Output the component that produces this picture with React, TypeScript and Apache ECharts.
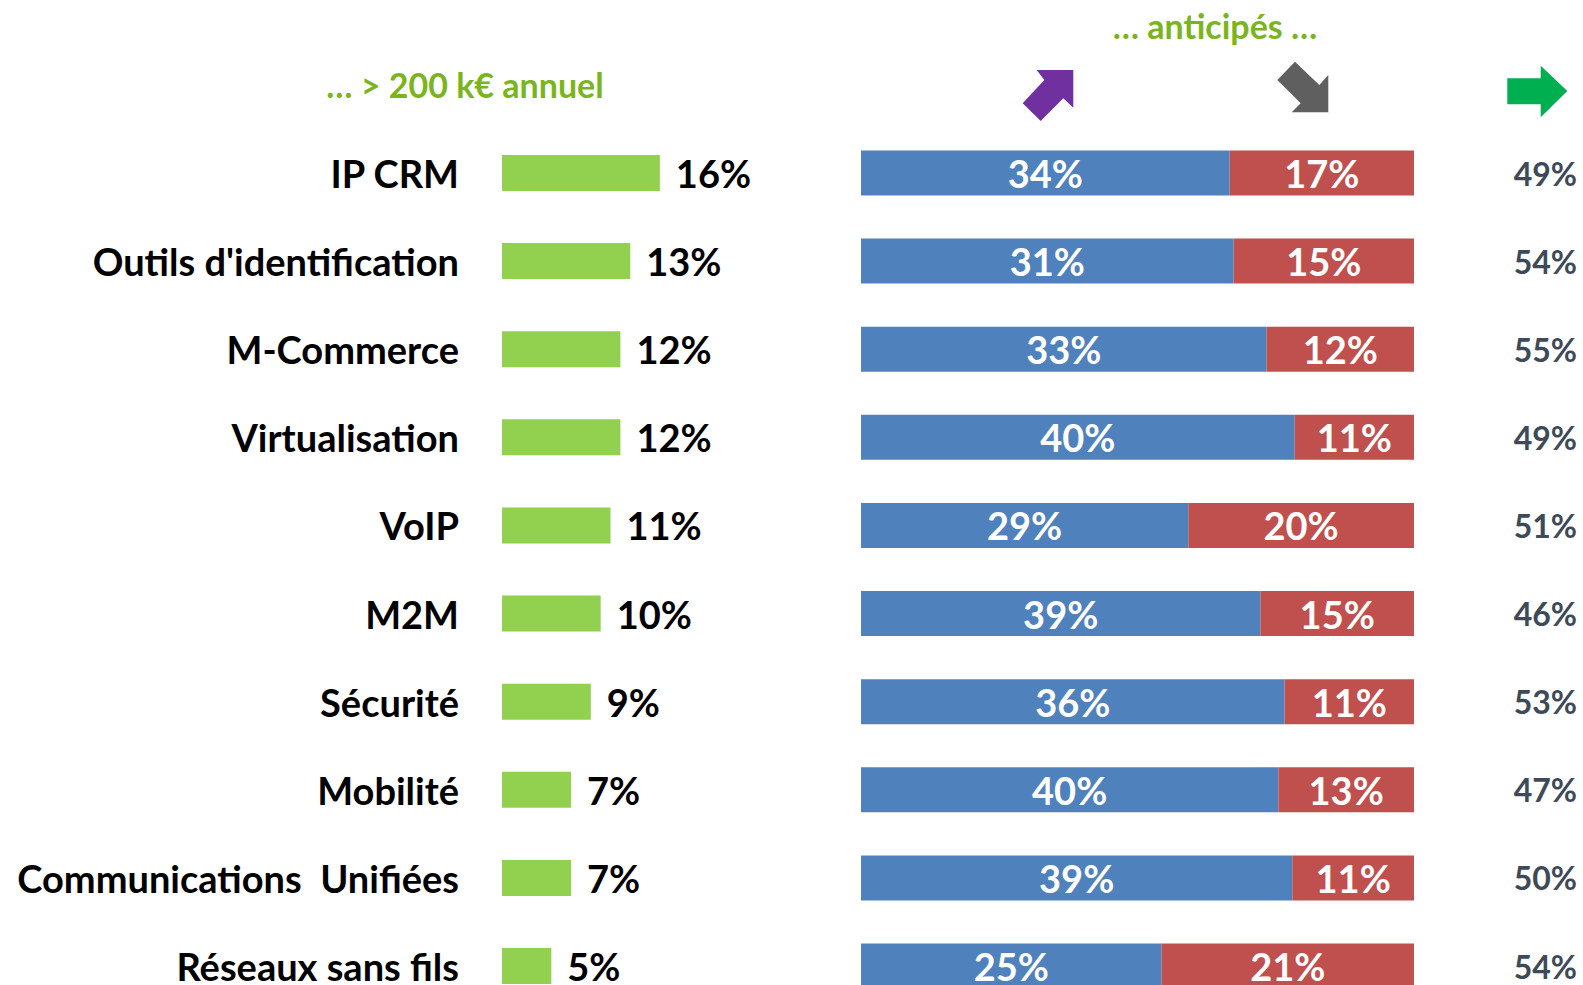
import React, { useEffect, useRef } from "react";
import * as echarts from "echarts";

const categories = [
  "IP CRM",
  "Outils d'identification",
  "M-Commerce",
  "Virtualisation",
  "VoIP",
  "M2M",
  "Sécurité",
  "Mobilité",
  "Communications  Unifiées",
  "Réseaux sans fils",
];
const budget = [16, 13, 12, 12, 11, 10, 9, 7, 7, 5];
const hausse = [34, 31, 33, 40, 29, 39, 36, 40, 39, 25];
const baisse = [17, 15, 12, 11, 20, 15, 11, 13, 11, 21];
const stable = [49, 54, 55, 49, 51, 46, 53, 47, 50, 54];

const titleLeft = "… > 200 k€ annuel";
const titleRight = "… anticipés …";

const FONT = "Lato";

export default function App() {
  const ref = useRef<HTMLDivElement>(null);
  useEffect(() => {
    const chart = echarts.init(ref.current!, null, { renderer: "svg" });
    const hausseShare = hausse.map((h, i) => (h / (h + baisse[i])) * 100);
    const baisseShare = baisse.map((b, i) => (b / (hausse[i] + b)) * 100);
    const top = 173;
    const height = 793;
    const catAxisBase = {
      type: "category",
      data: categories,
      inverse: true,
      boundaryGap: false,
      axisLine: { show: false },
      axisTick: { show: false },
      splitLine: { show: false },
    };
    chart.setOption({
      animation: false,
      backgroundColor: "#ffffff",
      grid: [
        { left: 502, width: 296, top, height },
        { left: 861, width: 553, top, height },
      ],
      xAxis: [
        { type: "value", gridIndex: 0, min: 0, max: 30, show: false },
        { type: "value", gridIndex: 1, min: 0, max: 100, show: false },
      ],
      yAxis: [
        {
          ...catAxisBase,
          gridIndex: 0,
          axisLabel: {
            margin: 43,
            fontFamily: FONT,
            fontWeight: "bold",
            fontSize: 38,
            color: "#000000",
          },
        },
        {
          ...catAxisBase,
          gridIndex: 1,
          position: "left",
          axisLabel: { show: false },
        },
        {
          ...catAxisBase,
          gridIndex: 1,
          position: "right",
          axisLabel: {
            align: "right",
            margin: 163,
            fontFamily: FONT,
            fontWeight: "bold",
            fontSize: 32,
            color: "#3e4a57",
            formatter: (_v: string, i: number) => stable[i] + "%",
          },
        },
      ],
      series: [
        {
          type: "bar",
          xAxisIndex: 0,
          yAxisIndex: 0,
          data: budget,
          barWidth: 36,
          clip: false,
          itemStyle: { color: "#92d050" },
          label: {
            show: true,
            position: "right",
            distance: 16,
            formatter: (p: any) => p.value + "%",
            fontFamily: FONT,
            fontWeight: "bold",
            fontSize: 38,
            color: "#000000",
          },
        },
        {
          type: "bar",
          xAxisIndex: 1,
          yAxisIndex: 1,
          stack: "anticipe",
          data: hausseShare,
          barWidth: 45,
          clip: false,
          itemStyle: { color: "#4f81bd" },
          label: {
            show: true,
            position: "inside",
            formatter: (p: any) => hausse[p.dataIndex] + "%",
            fontFamily: FONT,
            fontWeight: "bold",
            fontSize: 38,
            color: "#ffffff",
          },
        },
        {
          type: "bar",
          xAxisIndex: 1,
          yAxisIndex: 1,
          stack: "anticipe",
          data: baisseShare,
          barWidth: 45,
          clip: false,
          itemStyle: { color: "#c0504d" },
          label: {
            show: true,
            position: "inside",
            formatter: (p: any) => baisse[p.dataIndex] + "%",
            fontFamily: FONT,
            fontWeight: "bold",
            fontSize: 38,
            color: "#ffffff",
          },
        },
      ],
      graphic: [
        {
          type: "text",
          x: 465,
          y: 84,
          style: {
            text: titleLeft,
            fill: "#7ab51d",
            font: `bold 34px ${FONT}`,
            textAlign: "center",
            textVerticalAlign: "middle",
          },
        },
        {
          type: "text",
          x: 1215,
          y: 25,
          style: {
            text: titleRight,
            fill: "#7ab51d",
            font: `bold 34px ${FONT}`,
            textAlign: "center",
            textVerticalAlign: "middle",
          },
        },
        {
          type: "polygon",
          shape: {
            points: [
              [1036.7, 70],
              [1073.3, 70],
              [1073.3, 107.7],
              [1063.3, 98.3],
              [1040.7, 121],
              [1022.7, 103.3],
              [1044.3, 80],
            ],
          },
          style: { fill: "#7030a0" },
        },
        {
          type: "polygon",
          shape: {
            points: [
              [1295, 61.7],
              [1319.3, 85],
              [1328.3, 75],
              [1328.3, 112.3],
              [1291.7, 112.3],
              [1300.7, 103.3],
              [1277.3, 80],
            ],
          },
          style: { fill: "#5f5f5f" },
        },
        {
          type: "polygon",
          shape: {
            points: [
              [1507.3, 78.3],
              [1540.7, 78.3],
              [1540.7, 65.7],
              [1567.3, 91],
              [1540.7, 117.3],
              [1540.7, 104.3],
              [1507.3, 104.3],
            ],
          },
          style: { fill: "#00b050" },
        },
      ],
    });
    return () => chart.dispose();
  }, []);
  return (
    <div
      ref={ref}
      style={{ position: "fixed", left: 0, top: 0, width: 1583, height: 985 }}
    />
  );
}
